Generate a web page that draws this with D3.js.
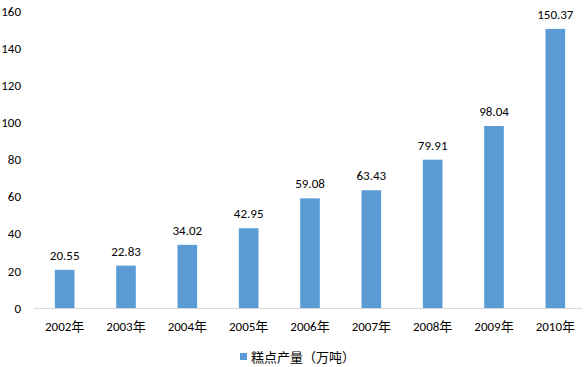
<!DOCTYPE html>
<html>
<head>
<meta charset="utf-8">
<script src="https://cdn.jsdelivr.net/npm/d3@7"></script>
<style>
    body { margin: 0; background: #fff; }
    svg text { font-family: Carlito, "Noto Sans", "Noto Sans CJK SC", sans-serif; fill: #000; }
</style>
</head>
<body>
<svg id="chart" width="586" height="367"></svg>
<script>
"use strict";

var years = ["2002年", "2003年", "2004年", "2005年", "2006年",
    "2007年", "2008年", "2009年", "2010年"];
var output = [20.55, 22.83, 34.02, 42.95, 59.08, 63.43, 79.91, 98.04, 150.37];
var yTicks = [0, 20, 40, 60, 80, 100, 120, 140, 160];
var seriesName = "糕点产量（万吨）";

var svg = d3.select("#chart");
var plot = { left: 34, right: 586, top: 11, bottom: 308 };

var x = d3.scaleBand()
    .domain(years)
    .range([plot.left, plot.right])
    .paddingInner(0.68)
    .paddingOuter(0.34);

var y = d3.scaleLinear()
    .domain([0, 160])
    .range([plot.bottom, plot.top]);

// y tick labels (no axis line, no gridlines)
var yAxis = d3.axisLeft(y).tickValues(yTicks).tickSize(0).tickPadding(0);
var yGroup = svg.append("g")
    .attr("transform", "translate(21,0)")
    .call(yAxis);
yGroup.select(".domain").remove();
yGroup.selectAll("text").attr("font-size", 13).attr("fill", "#000");

// bars
svg.append("g").selectAll("rect")
    .data(output)
    .join("rect")
    .attr("x", function (d, i) { return x(years[i]); })
    .attr("y", function (d) { return y(d); })
    .attr("width", x.bandwidth())
    .attr("height", function (d) { return y(0) - y(d); })
    .attr("fill", "#5B9BD5");

// value labels
svg.append("g").selectAll("text")
    .data(output)
    .join("text")
    .attr("x", function (d, i) { return x(years[i]) + x.bandwidth() / 2; })
    .attr("y", function (d) { return y(d) - 10; })
    .attr("text-anchor", "middle")
    .attr("font-size", 13)
    .text(function (d) { return d.toFixed(2); });

// x axis
var xAxis = d3.axisBottom(x).tickSize(0).tickPadding(14);
var xGroup = svg.append("g")
    .attr("transform", "translate(0," + plot.bottom + ")")
    .call(xAxis);
xGroup.select(".domain")
    .attr("stroke", "#D9D9D9")
    .attr("d", "M" + plot.left + ",0.5H582");
xGroup.selectAll("text").attr("font-size", 13).attr("fill", "#000");

// legend
var legend = svg.append("g").attr("transform", "translate(240,357)");
legend.append("rect")
    .attr("x", 0).attr("y", -4)
    .attr("width", 7).attr("height", 7)
    .attr("fill", "#5B9BD5");
legend.append("text")
    .attr("x", 11).attr("y", 0)
    .attr("dy", "0.35em")
    .attr("font-size", 13)
    .text(seriesName);
</script>
</body>
</html>
